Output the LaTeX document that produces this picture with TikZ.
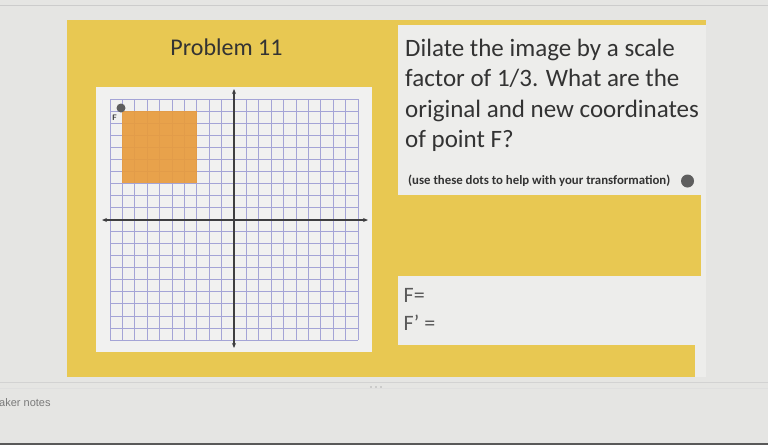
\documentclass[tikz,border=0pt]{standalone}
\usepackage{fontspec}
\setmainfont{Carlito}
\newfontfamily\uifont{Liberation Sans}
\usetikzlibrary{arrows.meta}
\definecolor{bggray}{HTML}{E5E5E3}
\definecolor{slidewhite}{HTML}{EDEDEB}
\definecolor{panelwhite}{HTML}{F1F1F0}
\definecolor{slideyellow}{HTML}{E8C852}
\definecolor{sqorange}{HTML}{E89C3E}
\definecolor{gridblue}{HTML}{A4A4D6}
\definecolor{axisgray}{HTML}{3E3E40}
\definecolor{textgray}{HTML}{333333}
\definecolor{lightgray}{HTML}{5A5A5A}
\definecolor{notegray}{HTML}{7A7A7A}
\definecolor{dotgray}{HTML}{5E5E5E}
\definecolor{bottomgray}{HTML}{595959}
\tikzset{
  bigtext/.style={font=\fontsize{25}{30}\selectfont, text=textgray, anchor=base west, inner sep=0pt},
  smalltext/.style={font=\bfseries\fontsize{12.8}{15}\selectfont, text=textgray, anchor=base west, inner sep=0pt},
  answertext/.style={font=\fontsize{22}{26}\selectfont, text=lightgray, anchor=base west, inner sep=0pt},
  gridline/.style={draw=gridblue, line width=0.8pt},
  axisline/.style={draw=axisgray, line width=1.4pt, {Stealth[length=5pt,width=4pt]}-{Stealth[length=5pt,width=4pt]}},
  dotmark/.style={circle, fill=dotgray, inner sep=0pt},
}
\begin{document}
\begin{tikzpicture}[x=1pt,y=-1pt]
\useasboundingbox (0,0) rectangle (768,445);
% background
\fill[bggray] (0,0) rectangle (768,445);
\draw[gray!40, line width=0.5pt] (0,5) -- (768,5);
% slide
\fill[slidewhite] (67,20) rectangle (706,377);
\fill[slideyellow] (67,20) rectangle (398,377);
\fill[slideyellow] (398,20) rectangle (706,25);
\fill[slideyellow] (398,195) rectangle (701,276);
\fill[slideyellow] (398,345) rectangle (695,377);
% graph panel
\fill[panelwhite] (96,87) rectangle (372,352);
\foreach \i in {0,...,20} {
  \draw[gridline] ({110+\i*12.4},99) -- ({110+\i*12.4},340);
  \draw[gridline] (110,{99+\i*12.05}) -- (358,{99+\i*12.05});
}
\fill[sqorange, opacity=0.92] (122.4,111.05) rectangle (196.8,183.35);
\coordinate (xl) at (102,220);
\coordinate (xr) at (368,220);
\coordinate (yt) at (234,89);
\coordinate (yb) at (234,348);
\draw[axisline] (xl) -- (xr);
\draw[axisline] (yt) -- (yb);
\node[dotmark, minimum size=9pt] (fdot) at (121,108) {};
\node[font=\sffamily\bfseries\fontsize{8}{9}\selectfont, text=axisgray, inner sep=0pt] (flabel) at (114.5,118) {F};
% title
\node[font=\fontsize{24}{28}\selectfont, text=textgray, inner sep=0pt, anchor=base] (title) at (226.5,55.5) {Problem 11};
% question
\node[bigtext] (q1) at (405,56.5) {Dilate the image by a scale};
\node[bigtext] (q2) at (405,86.8) {factor of 1/3. What are the};
\node[bigtext] (q3) at (405,117) {original and new coordinates};
\node[bigtext] (q4) at (405,147.2) {of point F?};
\node[smalltext] (hint) at (408,184) {(use these dots to help with your transformation)};
\node[dotmark, minimum size=13pt] (hdot) at (687.5,181) {};
% answers
\node[answertext] (a1) at (403.5,302.5) {F=};
\node[answertext] (a2) at (403.5,330.5) {F’ =};
% below slide
\draw[gray!35, line width=0.5pt] (0,382) -- (768,382);
\draw[gray!25, line width=0.5pt] (0,388) -- (768,388);
\foreach \k in {0,1,2} { \fill[gray!60] ({371+\k*5},387) circle (0.9); }
\node[font=\uifont\fontsize{11}{12}\selectfont, text=notegray, anchor=base west, inner sep=0pt] (notes) at (-1,406.5) {aker notes};
\fill[bottomgray] (0,442.5) rectangle (768,445);
\end{tikzpicture}
\end{document}
